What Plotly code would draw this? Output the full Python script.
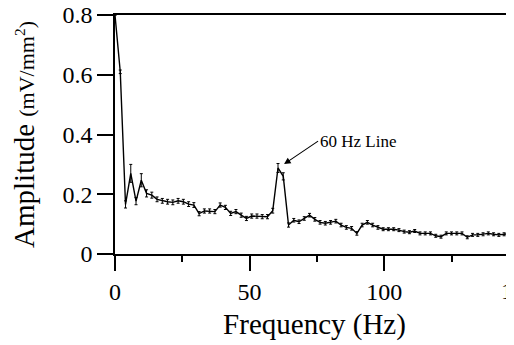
import plotly.graph_objects as go

# Frequency bins (Hz) – spectrum sampled every ~1.953 Hz
df_hz = 1.953
amplitude = [
    0.800, 0.610, 0.166, 0.270, 0.177, 0.247, 0.203, 0.197, 0.183, 0.178,
    0.175, 0.173, 0.178, 0.175, 0.167, 0.164, 0.135, 0.144, 0.144, 0.142,
    0.164, 0.156, 0.136, 0.142, 0.130, 0.119, 0.127, 0.127, 0.125, 0.125,
    0.145, 0.288, 0.260, 0.097, 0.113, 0.108, 0.119, 0.130, 0.116, 0.106,
    0.103, 0.106, 0.110, 0.097, 0.089, 0.086, 0.069, 0.097, 0.106, 0.097,
    0.089, 0.083, 0.083, 0.083, 0.080, 0.075, 0.073, 0.077, 0.069, 0.069,
    0.069, 0.061, 0.058, 0.069, 0.069, 0.069, 0.069, 0.056, 0.064, 0.064,
    0.066, 0.069, 0.066, 0.064, 0.066, 0.069, 0.069, 0.068,
]
error = [
    0.000, 0.006, 0.012, 0.030, 0.012, 0.022, 0.012, 0.010, 0.008, 0.008,
    0.008, 0.008, 0.008, 0.008, 0.008, 0.008, 0.007, 0.007, 0.007, 0.007,
    0.007, 0.007, 0.007, 0.007, 0.007, 0.007, 0.007, 0.007, 0.007, 0.007,
    0.008, 0.015, 0.012, 0.007, 0.006, 0.006, 0.006, 0.006, 0.006, 0.006,
    0.006, 0.006, 0.006, 0.006, 0.006, 0.006, 0.006, 0.006, 0.006, 0.006,
    0.006, 0.005, 0.005, 0.005, 0.005, 0.005, 0.005, 0.005, 0.005, 0.005,
    0.005, 0.005, 0.005, 0.005, 0.005, 0.005, 0.005, 0.005, 0.005, 0.005,
    0.005, 0.005, 0.005, 0.005, 0.005, 0.005, 0.005, 0.005,
]
frequency = [round(i * df_hz, 3) for i in range(len(amplitude))]

x_ticks = [0, 50, 100, 150]
x_minor = [25, 75, 125]
y_ticks = [0, 0.2, 0.4, 0.6, 0.8]
y_labels = ["0", "0.2", "0.4", "0.6", "0.8"]

x_range = [0, 148.2]
y_range = [0, 0.8002]

FONT = "Liberation Serif"

fig = go.Figure()
fig.add_trace(go.Scatter(
    x=frequency, y=amplitude, mode="lines",
    line=dict(color="black", width=1.4),
    error_y=dict(type="data", array=error, visible=True,
                 color="black", thickness=1, width=1.5),
    showlegend=False, cliponaxis=False,
))
# invisible helper trace on an overlay axis carrying the minor ticks
fig.add_trace(go.Scatter(x=x_minor, y=[None] * len(x_minor), xaxis="x2",
                         mode="markers", showlegend=False, hoverinfo="skip"))

fig.update_layout(
    width=506, height=337,
    margin=dict(l=107, r=0, t=7, b=91, pad=0, autoexpand=False),
    paper_bgcolor="white", plot_bgcolor="white",
    font=dict(family=FONT, color="black"),
    xaxis=dict(
        range=x_range, showgrid=False, zeroline=False,
        showline=True, linecolor="black", linewidth=1.5, mirror=True,
        tickmode="array", tickvals=x_ticks, ticks="outside",
        ticklen=15, tickwidth=1.5, tickcolor="black",
        tickfont=dict(family=FONT, size=24),
        title=dict(text="Frequency (Hz)", font=dict(family=FONT, size=29), standoff=10),
    ),
    xaxis2=dict(
        overlaying="x", side="bottom", range=x_range, showgrid=False,
        zeroline=False, showline=False, tickmode="array", tickvals=x_minor,
        ticks="outside", ticklen=7, tickwidth=1.5, tickcolor="black",
        showticklabels=False,
    ),
    yaxis=dict(
        range=y_range, showgrid=False, zeroline=False,
        showline=True, linecolor="black", linewidth=1.5,
        tickmode="array", tickvals=y_ticks, ticktext=y_labels,
        ticks="outside", ticklen=16, tickwidth=1.5, tickcolor="black",
        tickfont=dict(family=FONT, size=24), ticklabeloverflow="allow",
        title=dict(
            text="Amplitude <span style='font-size:22px'>(mV/mm<sup>2</sup>)</span>",
            font=dict(family=FONT, size=29), standoff=19),
    ),
)

# partially visible "150" tick label beyond the right edge
frac150 = (x_ticks[-1] - x_range[0]) / (x_range[1] - x_range[0])
fig.add_annotation(
    x=frac150, xref="paper", y=y_range[0], yref="y",
    text=str(x_ticks[-1]), showarrow=False, font=dict(family=FONT, size=24),
    yanchor="top", yshift=-22, xanchor="center",
)

# "60 Hz Line" label with arrow pointing at the 60 Hz peak
fig.add_annotation(
    x=62.8, y=0.301, xref="x", yref="y", text="60 Hz Line",
    showarrow=True, ax=34, ay=-23, xanchor="left", yanchor="middle",
    arrowhead=2, arrowsize=1.2, arrowwidth=1.1, arrowcolor="black",
    font=dict(family=FONT, size=17),
)

fig.write_html("out.html")
